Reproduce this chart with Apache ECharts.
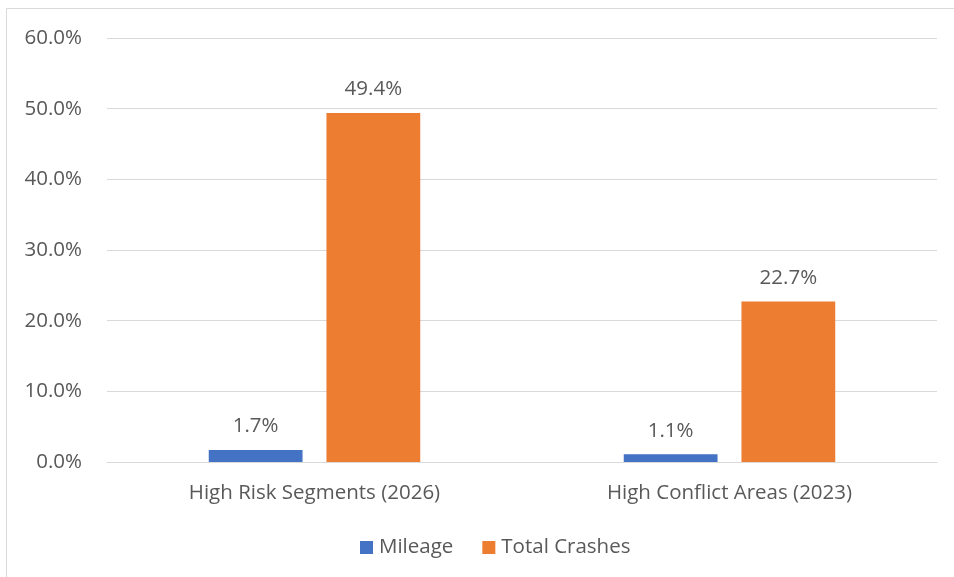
<!DOCTYPE html>
<html><head><meta charset="utf-8">
<script src="https://cdn.jsdelivr.net/npm/echarts@6/dist/echarts.min.js"></script>
<style>html,body{margin:0;padding:0;background:#fff}#c{width:954px;height:577px}</style>
</head><body><div id="c"></div>
<script>
var categories = ['High Risk Segments (2026)', 'High Conflict Areas (2023)'];
var mileage = [1.7, 1.1];
var totalCrashes = [49.4, 22.7];
var seriesNames = ['Mileage', 'Total Crashes'];

var FONT = '"Open Sans", sans-serif';
var FS = 20.5;
var TXT = '#595959';
var chart = echarts.init(document.getElementById('c'), null, {renderer: 'canvas'});
chart.setOption({
  animation: false,
  graphic: [{type: 'rect', shape: {x: 6.5, y: 8.5, width: 1000, height: 1000}, style: {fill: 'none', stroke: '#d9d9d9', lineWidth: 1}, silent: true}],
  grid: {left: 107, right: 17, top: 38, bottom: 115},
  legend: {
    top: 532, left: 355, itemWidth: 13, itemHeight: 13, itemGap: 29,
    icon: 'rect',
    textStyle: {fontFamily: FONT, fontSize: FS, color: TXT, padding: [0, 0, 0, 1]},
    data: seriesNames
  },
  xAxis: {
    type: 'category', data: categories,
    axisLine: {lineStyle: {color: '#d9d9d9', width: 1}},
    axisTick: {show: false},
    axisLabel: {fontFamily: FONT, fontSize: FS, color: TXT, margin: 21}
  },
  yAxis: {
    type: 'value', min: 0, max: 60, interval: 10,
    axisLine: {show: false}, axisTick: {show: false},
    splitLine: {lineStyle: {color: '#d9d9d9', width: 1}},
    axisLabel: {fontFamily: FONT, fontSize: FS, color: TXT, margin: 25, formatter: function(v){return v.toFixed(1)+'%';}}
  },
  series: [
    {name: seriesNames[0], type: 'bar', data: mileage, barWidth: '22.6%', barGap: '25.5%', itemStyle: {color: '#4472C4'},
     label: {show: true, position: 'top', distance: 13, fontFamily: FONT, fontSize: FS, color: TXT, formatter: function(p){return p.value.toFixed(1)+'%';}}},
    {name: seriesNames[1], type: 'bar', data: totalCrashes, barWidth: '22.6%', itemStyle: {color: '#ED7D31'},
     label: {show: true, position: 'top', distance: 13, fontFamily: FONT, fontSize: FS, color: TXT, formatter: function(p){return p.value.toFixed(1)+'%';}}}
  ]
});
</script></body></html>
